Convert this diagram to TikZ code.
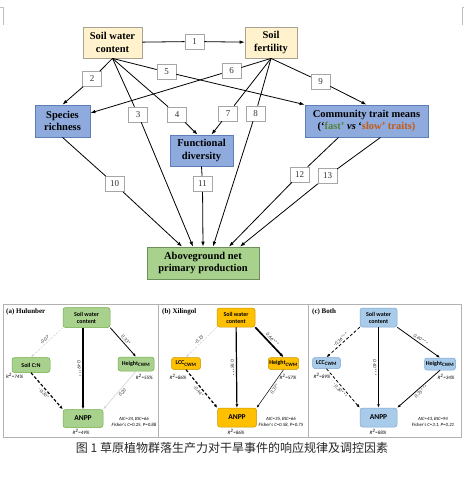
\documentclass[tikz,border=0pt]{standalone}
\usepackage{fontspec}
\setmainfont{Liberation Serif}
\newfontfamily\cjkfont{Noto Sans CJK SC}
\newfontfamily\calibfont{Carlito}
\usetikzlibrary{arrows.meta}
\definecolor{swcyellow}{HTML}{FFF2CC}
\definecolor{swcedge}{HTML}{A8A294}
\definecolor{divblue}{HTML}{8FAADC}
\definecolor{divedge}{HTML}{5D7EB8}
\definecolor{anppgreen}{HTML}{A9D18E}
\definecolor{anppedge}{HTML}{6F8F5A}
\definecolor{fastgreen}{HTML}{548235}
\definecolor{sloworange}{HTML}{C55A11}
\definecolor{hulgreen}{HTML}{A9D18E}
\definecolor{huledge}{HTML}{70AD47}
\definecolor{xilorange}{HTML}{FFC000}
\definecolor{xiledge}{HTML}{C99700}
\definecolor{bothblue}{HTML}{A9CBEA}
\definecolor{bothedge}{HTML}{7BA7D4}
\begin{document}
\begin{tikzpicture}[x=1pt,y=-1pt,
    bigbox/.style 2 args={draw=#1, fill=#2, line width=0.8pt, align=center, inner sep=1pt,
      font=\bfseries\fontsize{10.5}{12.5}\selectfont},
    numbox/.style={draw=gray!70, fill=white, line width=0.6pt, minimum width=19, minimum height=15,
      inner sep=0pt, text=black!80, font=\fontsize{9}{9}\selectfont},
    pathway/.style={-{Latex[length=5pt,width=3.6pt]}, line width=0.8pt},
    panelbox/.style 2 args={draw=#2, fill=#1, rounded corners=2.5pt, line width=0.5pt, align=center,
      inner sep=1pt, font=\calibfont\bfseries\fontsize{6}{7}\selectfont},
    paneltitle/.style={anchor=base west, inner sep=0pt, font=\bfseries\fontsize{7}{7}\selectfont},
    coef/.style={inner sep=1.5pt, text=black!85, font=\calibfont\itshape\fontsize{5}{5}\selectfont},
    rsq/.style={inner sep=0pt, font=\calibfont\itshape\fontsize{5}{5}\selectfont},
    fitstat/.style={align=center, inner sep=0pt, font=\calibfont\itshape\fontsize{4.8}{6}\selectfont},
    lightpath/.style={-{Latex[length=3pt,width=2.4pt]}, draw=gray!35, line width=0.6pt},
    thinpath/.style={-{Latex[length=3pt,width=2.4pt]}, line width=0.5pt},
    midpath/.style={-{Latex[length=3.5pt,width=2.8pt]}, line width=0.8pt},
    thickpath/.style={-{Latex[length=3.5pt,width=3pt]}, line width=1.2pt},
    heavypath/.style={-{Latex[length=4pt,width=3.4pt]}, line width=1.7pt},
    negpath/.style={dash pattern=on 3pt off 2pt}]
    \useasboundingbox (0,0) rectangle (464,484);
    \draw[gray!50, line width=0.6pt] (0,7) -- (3.5,7) -- (3.5,25);
    \draw[gray!50, line width=0.6pt] (464,7) -- (462.5,7) -- (462.5,25);
    % conceptual model
    \node[bigbox={swcedge}{swcyellow}, minimum width=59, minimum height=31] (swc) at (112.5,42.5) {Soil water\\content};
    \node[bigbox={swcedge}{swcyellow}, minimum width=52, minimum height=31] (sf) at (271,42.5) {Soil\\fertility};
    \node[bigbox={divedge}{divblue}, minimum width=55, minimum height=32] (sr) at (62.5,121) {Species\\richness};
    \node[bigbox={divedge}{divblue}, minimum width=63, minimum height=31] (fd) at (201.5,150.5) {Functional\\diversity};
    \node[bigbox={divedge}{divblue}, minimum width=123, minimum height=32] (ctm) at (366.5,121)
      {Community trait means\\(‘\textcolor{fastgreen}{fast’} \textit{vs} ‘\textcolor{sloworange}{slow’ traits)}};
    \node[bigbox={anppedge}{anppgreen}, minimum width=112, minimum height=32] (anpp) at (203,263) {Aboveground net\\primary production};
    \foreach \n/\x/\y in {1/194.5/41.5, 2/92/79, 3/138/114.5, 4/177/114.5, 5/166.5/72, 6/231.5/70.5, 7/228/113.5,
      8/255.5/113.5, 9/320.5/81.5, 10/114.5/184, 11/202.5/184, 12/299.5/174.5, 13/327.5/176}
      \node[numbox] (n\n) at (\x,\y) {\n};
    \draw[pathway] (swc) -- (n1) -- (sf);
    \draw[pathway] (swc.south) -- (n2) -- (sr.north);
    \draw[pathway] (swc.south) -- (n3) -- ([xshift=-10pt]anpp.north);
    \draw[pathway] (swc.south) -- (n4) -- ([xshift=-4pt]fd.north);
    \draw[pathway] (swc.south) -- (n5) -- (ctm.north west);
    \draw[pathway] (sf.south) -- (n6) -- ([yshift=8pt]sr.east);
    \draw[pathway] (sf.south) -- (n7) -- ([xshift=10pt]fd.north);
    \draw[pathway] (sf.south) -- (n8) -- ([xshift=10pt]anpp.north);
    \draw[pathway] (sf.south) -- (n9) -- (ctm.north);
    \draw[pathway] (sr.south) -- (n10) -- ([xshift=-21pt]anpp.north);
    \draw[pathway] (fd.south) -- (n11) -- (anpp.north);
    \draw[pathway] ([xshift=-28pt]ctm.south) -- (n12) -- ([xshift=26pt]anpp.north);
    \draw[pathway] ([xshift=14pt]ctm.south) -- (n13) -- ([xshift=37pt]anpp.north);
    % SEM panels
    \draw[gray!60, line width=0.5pt] (3,304) rectangle (158,437);
    \draw[gray!60, line width=0.5pt] (158,304) rectangle (308,437);
    \draw[gray!60, line width=0.5pt] (308,304) rectangle (461,437);
    \node[paneltitle] (titleA) at (6,313) {(a) Hulunber};
    \node[paneltitle] (titleB) at (162,313) {(b) Xilingol};
    \node[paneltitle] (titleC) at (312,313) {(c) Both};
    % (a)
    \node[panelbox={hulgreen}{huledge}, minimum width=47, minimum height=20] (swcA) at (86.5,317.5) {Soil water\\content};
    \node[panelbox={hulgreen}{huledge}, minimum width=38, minimum height=15] (cnA) at (31,365) {Soil C:N};
    \node[panelbox={hulgreen}{huledge}, minimum width=36, minimum height=14] (htA) at (136,364) {Height\textsubscript{CWM}};
    \node[panelbox={hulgreen}{huledge}, minimum width=40, minimum height=18, font=\calibfont\bfseries\fontsize{7.5}{8}\selectfont] (anppA) at (83,418.5) {ANPP};
    \draw[lightpath, dash pattern=on 2pt off 1.5pt] (swcA.south west) -- (cnA.north) node[coef, midway, sloped, above] {-0.07};
    \draw[thickpath] (swcA.south -| anppA) -- (anppA) node[coef, midway, rotate=-90, anchor=north] {0.49***};
    \draw[midpath] (swcA.south east) -- (htA.north) node[coef, midway, sloped, above] {0.33*};
    \draw[thickpath, negpath] (cnA.south) -- (anppA.north west) node[coef, midway, sloped, below] {-0.30*};
    \draw[lightpath] (htA.south) -- (anppA.north east) node[coef, midway, sloped, below] {0.20};
    \node[rsq, anchor=west] (rA1) at (6,376) {R\textsuperscript{2}=74\%};
    \node[rsq, anchor=east] (rA2) at (153,377) {R\textsuperscript{2}=55\%};
    \node[rsq] (rA3) at (81,432) {R\textsuperscript{2}=49\%};
    \node[fitstat] (fitA) at (134,422) {AIC=34, BIC=66\\Fisher's C=0.25, P=0.88};
    % (b)
    \node[panelbox={xilorange}{xiledge}, minimum width=38, minimum height=19] (swcB) at (236,317.5) {Soil water\\content};
    \node[panelbox={xilorange}{xiledge}, minimum width=29, minimum height=12] (lccB) at (186,363.5) {LCC\textsubscript{CWM}};
    \node[panelbox={xilorange}{xiledge}, minimum width=30, minimum height=12] (htB) at (283.5,363.5) {Height\textsubscript{CWM}};
    \node[panelbox={xilorange}{xiledge}, minimum width=39, minimum height=19, font=\calibfont\bfseries\fontsize{7.5}{8}\selectfont] (anppB) at (237,417.5) {ANPP};
    \draw[lightpath, dash pattern=on 2pt off 1.5pt] (swcB.south west) -- (lccB.north) node[coef, midway, sloped, above] {-0.13};
    \draw[thickpath] (swcB) -- (anppB) node[coef, midway, rotate=-90, anchor=north] {0.58***};
    \draw[heavypath] (swcB.south east) -- (htB.north) node[coef, midway, sloped, above] {0.66***};
    \draw[thickpath, negpath] (lccB.south) -- (anppB.north west) node[coef, midway, sloped, below] {-0.44*};
    \draw[thinpath] (htB.south) -- (anppB.north east) node[coef, pos=0.45, sloped, below] {0.37*};
    \node[rsq] (rB1) at (178,377) {R\textsuperscript{2}=86\%};
    \node[rsq] (rB2) at (288,377) {R\textsuperscript{2}=57\%};
    \node[rsq] (rB3) at (236,432) {R\textsuperscript{2}=86\%};
    \node[fitstat] (fitB) at (281,422) {AIC=35, BIC=66\\Fisher's C=0.58, P=0.75};
    % (c)
    \node[panelbox={bothblue}{bothedge}, minimum width=37, minimum height=19] (swcC) at (378.5,317.5) {Soil water\\content};
    \node[panelbox={bothblue}{bothedge}, minimum width=28, minimum height=11] (lccC) at (326.5,363) {LCC\textsubscript{CWM}};
    \node[panelbox={bothblue}{bothedge}, minimum width=31, minimum height=12] (htC) at (440,364) {Height\textsubscript{CWM}};
    \node[panelbox={bothblue}{bothedge}, minimum width=37, minimum height=19, font=\calibfont\bfseries\fontsize{7.5}{8}\selectfont] (anppC) at (378.5,417.5) {ANPP};
    \draw[midpath, negpath] (swcC.south west) -- (lccC.north) node[coef, midway, sloped, above] {-0.36***};
    \draw[midpath] (swcC) -- (anppC) node[coef, midway, rotate=-90, anchor=north] {0.40***};
    \draw[midpath] (swcC.south east) -- (htC.north) node[coef, midway, sloped, above] {0.40***};
    \draw[midpath, negpath] (lccC.south) -- (anppC.north west) node[coef, midway, sloped, below] {-0.30***};
    \draw[midpath] (htC.south) -- (anppC.north east) node[coef, midway, sloped, below] {0.35***};
    \node[rsq] (rC1) at (322,376) {R\textsuperscript{2}=89\%};
    \node[rsq] (rC2) at (446,377) {R\textsuperscript{2}=34\%};
    \node[rsq] (rC3) at (378,432) {R\textsuperscript{2}=88\%};
    \node[fitstat] (fitC) at (433,422) {AIC=43, BIC=94\\Fisher's C=3.1, P=0.21};
    % caption
    \node[font=\cjkfont\fontsize{12}{12}\selectfont, text=black!85] (caption) at (232,448) {图 1 草原植物群落生产力对干旱事件的响应规律及调控因素};
\end{tikzpicture}
\end{document}
